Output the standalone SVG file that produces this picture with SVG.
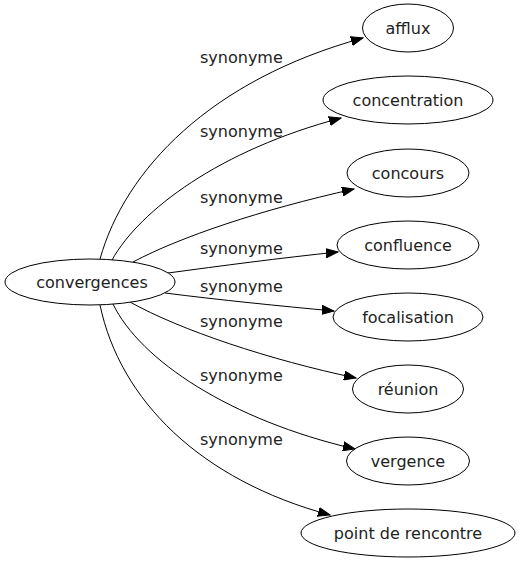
<svg xmlns="http://www.w3.org/2000/svg" width="522" height="563" viewBox="0 0 522 563">
<style>
  .node ellipse { fill: white; stroke: black; stroke-width: 1; }
  text { font-family: "DejaVu Sans", sans-serif; font-size: 16px; fill: #222; }
  .node text { text-anchor: middle; }
  .edges path { fill: none; stroke: black; stroke-width: 1; }
</style>
<defs>
  <marker id="arrow" markerWidth="13" markerHeight="10" refX="12" refY="5" orient="auto" markerUnits="userSpaceOnUse">
    <path d="M0,0.5 L12,5 L0,9.5 Z" fill="black" stroke="black" stroke-width="1"/>
  </marker>
</defs>
<rect width="522" height="563" fill="white"/>
<g class="edges">
  <path d="M100,259 C125,170 210,80 363,38" marker-end="url(#arrow)"/>
  <path d="M112,260 C140,210 220,150 341,118" marker-end="url(#arrow)"/>
  <path d="M133,262 C180,237 260,210 354,189" marker-end="url(#arrow)"/>
  <path d="M168,273 C220,266 280,258 338,252" marker-end="url(#arrow)"/>
  <path d="M165,293 C220,300 280,306 334,311" marker-end="url(#arrow)"/>
  <path d="M130,302 C180,330 270,360 356,378" marker-end="url(#arrow)"/>
  <path d="M113,304 C140,360 230,420 355,449" marker-end="url(#arrow)"/>
  <path d="M100,305 C120,400 200,480 330,515" marker-end="url(#arrow)"/>
  <text x="200" y="63">synonyme</text>
  <text x="200" y="137">synonyme</text>
  <text x="200" y="203">synonyme</text>
  <text x="200" y="254">synonyme</text>
  <text x="200" y="292">synonyme</text>
  <text x="200" y="327">synonyme</text>
  <text x="200" y="381">synonyme</text>
  <text x="200" y="445">synonyme</text>
</g>
<g class="node" id="convergences">
  <ellipse cx="90" cy="282" rx="85" ry="23"/>
  <text x="92" y="288">convergences</text>
</g>
<g class="node" id="afflux">
  <ellipse cx="408" cy="28" rx="45.5" ry="24"/>
  <text x="408" y="34">afflux</text>
</g>
<g class="node" id="concentration">
  <ellipse cx="408" cy="100" rx="85" ry="24"/>
  <text x="408" y="106">concentration</text>
</g>
<g class="node" id="concours">
  <ellipse cx="408" cy="173" rx="61" ry="24"/>
  <text x="408" y="179">concours</text>
</g>
<g class="node" id="confluence">
  <ellipse cx="408" cy="245" rx="71" ry="24"/>
  <text x="408" y="251">confluence</text>
</g>
<g class="node" id="focalisation">
  <ellipse cx="408" cy="317" rx="75" ry="24"/>
  <text x="408" y="323">focalisation</text>
</g>
<g class="node" id="reunion">
  <ellipse cx="408" cy="389" rx="55.5" ry="24"/>
  <text x="408" y="395">réunion</text>
</g>
<g class="node" id="vergence">
  <ellipse cx="408" cy="461" rx="61.5" ry="24"/>
  <text x="408" y="467">vergence</text>
</g>
<g class="node" id="point-de-rencontre">
  <ellipse cx="408" cy="533" rx="107" ry="24"/>
  <text x="408" y="539">point de rencontre</text>
</g>
</svg>
